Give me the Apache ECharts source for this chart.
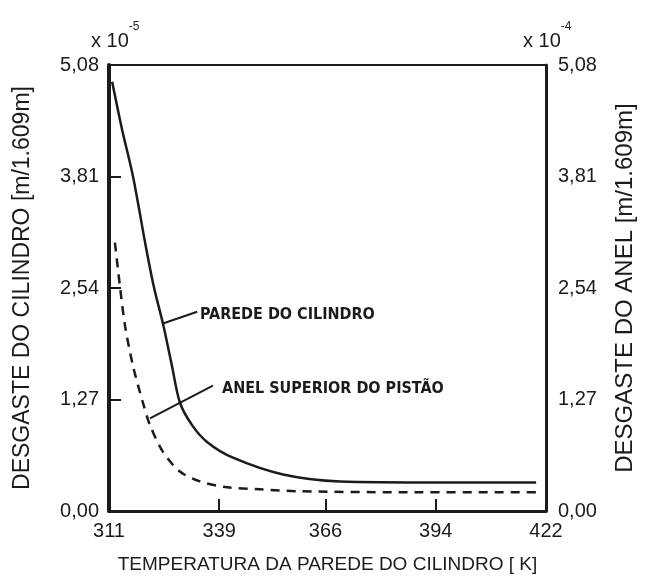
<!DOCTYPE html>
<html>
<head>
<meta charset="utf-8">
<script src="https://cdn.jsdelivr.net/npm/echarts@6/dist/echarts.min.js"></script>
<style>
html, body { margin: 0; padding: 0; background: #fff; }
#chart { width: 646px; height: 579px; }
</style>
</head>
<body>
<div id="chart"></div>
<script>
// temperatura [K] e desgaste da parede do cilindro [x 10^-5 m/1.609m]
const tempParede = [311.8, 314.3, 317.1, 320.4, 322.4, 324.7, 327.0, 329.0, 332.1, 335.9, 342.5, 355.2, 369.7, 395.1, 419.5]
const desgasteParede = [4.889, 4.349, 3.810, 3.001, 2.551, 2.135, 1.652, 1.236, 0.978, 0.787, 0.607, 0.416, 0.337, 0.326, 0.326]
// desgaste do anel superior do pistao [x 10^-4 m/1.609m]
const tempAnel = [312.5, 313.8, 315.1, 317.1, 319.6, 321.4, 324.7, 329.0, 334.1, 341.0, 349.4, 359.5, 384.9, 419.5]
const desgasteAnel = [3.057, 2.551, 2.102, 1.652, 1.236, 0.978, 0.674, 0.450, 0.337, 0.270, 0.247, 0.225, 0.214, 0.214]

const xTickLabels = [311, 339, 366, 394, 422]

const fonte = "'Liberation Sans', Arial, sans-serif"
const fonteNota = "'Liberation Sans Narrow', 'DejaVu Sans Condensed', sans-serif"
const cor = '#1b1b1b'

let myChart = echarts.init(document.getElementById('chart'))

function fmt (v) {
  return v.toFixed(2).replace('.', ',')
}

function multiplicador (exp, left) {
  return {
    text: '{b|x 10}{s|' + exp + '}',
    left: left,
    top: 16,
    textStyle: {
      rich: {
        b: { fontFamily: fonte, fontSize: 20, fontWeight: 'normal', color: cor, padding: [10, 0, 0, 0] },
        s: { fontFamily: fonte, fontSize: 12, fontWeight: 'normal', color: cor, verticalAlign: 'top' }
      }
    }
  }
}

myChart.setOption({
  animation: false,
  backgroundColor: '#fff',
  title: [multiplicador('-5', 86), multiplicador('-4', 518)],
  grid: {
    left: 109,
    top: 65,
    right: 100,
    bottom: 62,
    show: true,
    borderColor: cor,
    borderWidth: 2
  },
  xAxis: {
    type: 'value',
    min: 311,
    max: 422,
    name: 'TEMPERATURA DA PAREDE DO CILINDRO [ K]',
    nameLocation: 'middle',
    nameGap: 44,
    nameTextStyle: { fontFamily: fonte, fontSize: 19, color: cor },
    splitLine: { show: false },
    axisLine: { lineStyle: { color: cor, width: 3 } },
    axisTick: {
      inside: true,
      length: 12,
      customValues: [339, 366, 394],
      lineStyle: { color: cor, width: 2 }
    },
    axisLabel: {
      customValues: xTickLabels,
      margin: 10,
      fontFamily: fonte,
      fontSize: 20,
      color: cor,
      formatter: v => String(Math.round(v))
    }
  },
  yAxis: [
    {
      type: 'value',
      position: 'left',
      min: 0,
      max: 5.08,
      interval: 1.27,
      name: 'DESGASTE DO CILINDRO [m/1.609m]',
      nameLocation: 'middle',
      nameRotate: 90,
      nameGap: 75,
      nameTextStyle: { fontFamily: fonte, fontSize: 23, color: cor },
      splitLine: { show: false },
      axisLine: { show: true, lineStyle: { color: cor, width: 4 } },
      axisTick: { inside: true, length: 12, lineStyle: { color: cor, width: 2 } },
      axisLabel: { margin: 10, fontFamily: fonte, fontSize: 20, color: cor, formatter: fmt }
    },
    {
      type: 'value',
      position: 'right',
      min: 0,
      max: 5.08,
      interval: 1.27,
      name: 'DESGASTE DO ANEL [m/1.609m]',
      nameLocation: 'middle',
      nameRotate: 90,
      nameGap: 67,
      nameTextStyle: { fontFamily: fonte, fontSize: 24, color: cor },
      splitLine: { show: false },
      axisLine: { show: true, lineStyle: { color: cor, width: 3 } },
      axisTick: { show: false },
      axisLabel: { margin: 12, fontFamily: fonte, fontSize: 20, color: cor, formatter: fmt, padding: [14, 0, 0, 0] }
    }
  ],
  series: [
    {
      name: 'PAREDE DO CILINDRO',
      type: 'line',
      yAxisIndex: 0,
      showSymbol: false,
      smooth: 0.3,
      data: tempParede.map((t, i) => [t, desgasteParede[i]]),
      lineStyle: { color: cor, width: 2.5 }
    },
    {
      name: 'ANEL SUPERIOR DO PISTÃO',
      type: 'line',
      yAxisIndex: 1,
      showSymbol: false,
      smooth: 0.3,
      data: tempAnel.map((t, i) => [t, desgasteAnel[i]]),
      lineStyle: { color: cor, width: 2.5, type: [9, 7] }
    }
  ]
})

// notas com linhas de chamada, ancoradas em coordenadas de dados
const notas = [
  { texto: 'PAREDE DO CILINDRO', de: [324.7, 2.135], ate: [333.4, 2.27], pos: [334.1, 2.237] },
  { texto: 'ANEL SUPERIOR DO PISTÃO', de: [321.4, 1.056], ate: [337.4, 1.427], pos: [339.7, 1.394] }
]
const px = p => myChart.convertToPixel({ xAxisIndex: 0, yAxisIndex: 0 }, p)
const graficos = []
notas.forEach(n => {
  const a = px(n.de)
  const b = px(n.ate)
  const c = px(n.pos)
  graficos.push({
    type: 'line',
    shape: { x1: a[0], y1: a[1], x2: b[0], y2: b[1] },
    style: { stroke: cor, lineWidth: 2 }
  })
  graficos.push({
    type: 'text',
    x: c[0],
    y: c[1],
    style: {
      text: n.texto,
      fill: cor,
      font: 'bold 16px ' + fonteNota,
      verticalAlign: 'middle'
    }
  })
})
myChart.setOption({ graphic: graficos })
</script>
</body>
</html>
